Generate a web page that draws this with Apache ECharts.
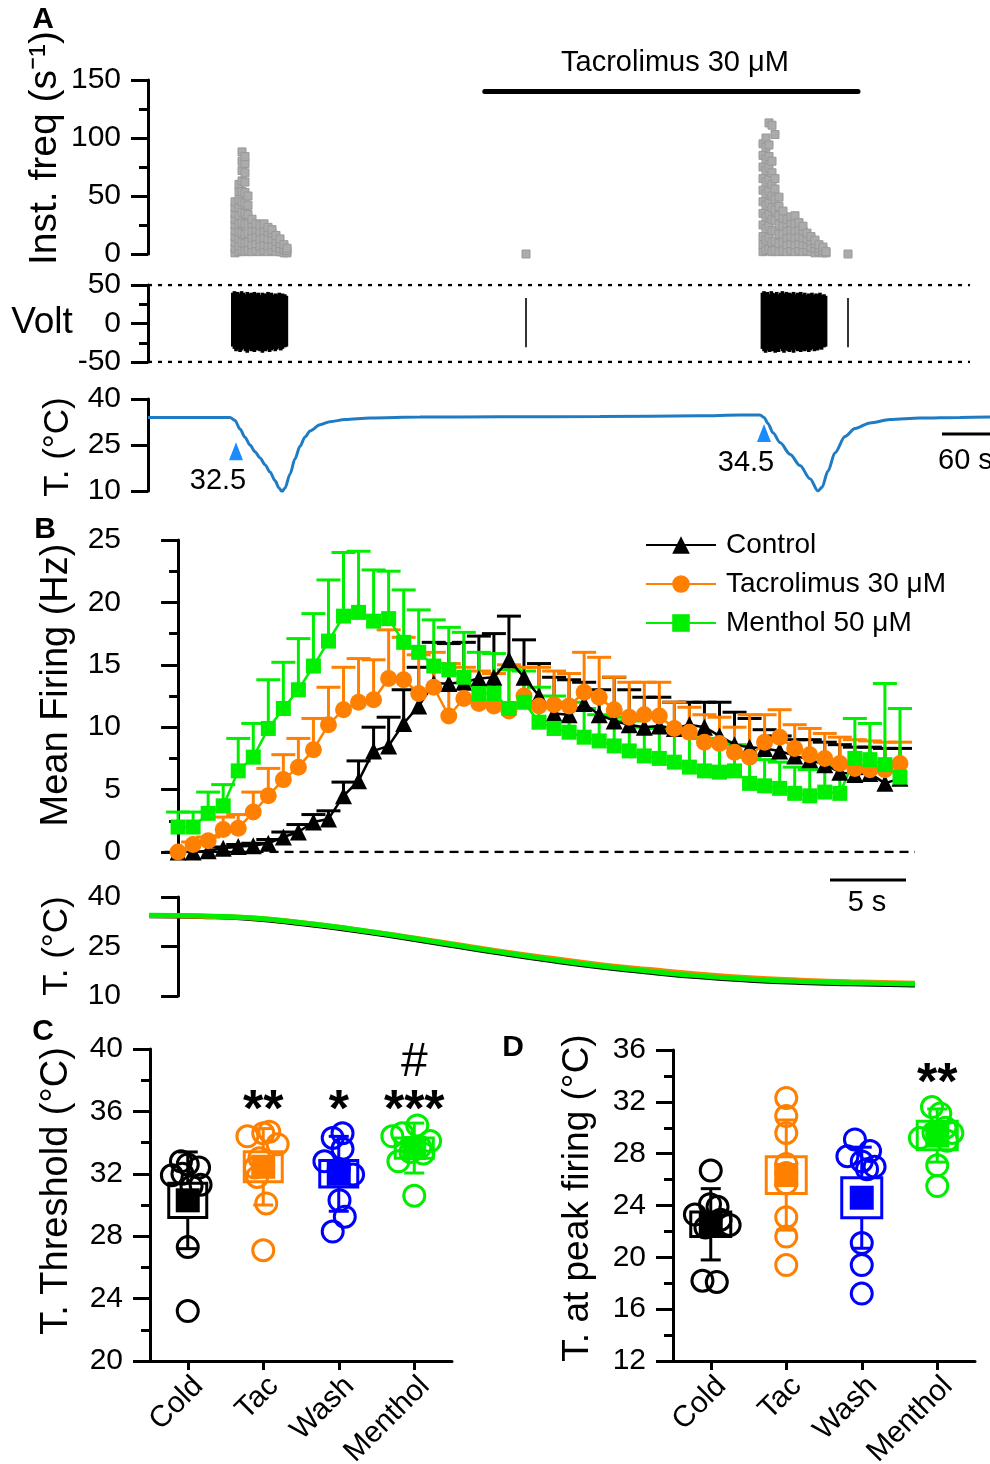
<!DOCTYPE html>
<html><head><meta charset="utf-8">
<script src="https://cdn.jsdelivr.net/npm/echarts@6/dist/echarts.min.js"></script>
<style>html,body{margin:0;padding:0;background:#fff}#c{width:990px;height:1464px}</style>
</head><body><div id="c"></div><script>
const FONT = "'Liberation Sans', Arial, Helvetica, sans-serif";

// ---------- Panel A: instantaneous frequency (time s, freq s-1) ----------
const instFreqCols1 = [
 [108.75,[1,5,10,15,20,25,30,35,40,45]],
 [113.75,[2,7,13,19,26,33,40,47,54,60]],
 [117.5,[3,10,18,27,36,45,54,63,72,80,88]],
 [121.25,[2,9,17,26,35,44,53,62,70,78,84]],
 [125,[3,10,18,26,34,42,50]],
 [130,[2,8,14,20,26,30]],
 [135,[3,9,15,21,26]],
 [140,[2,7,13,19,25]],
 [145,[3,8,14,20,26]],
 [150,[2,7,13,19,23]],
 [155,[3,8,13,18,21]],
 [160,[2,6,11,16]],
 [165,[2,5,9,13]],
 [170,[1,4,8]],
 [173.75,[1,3,5]]
];
const instFreqCols2 = [
 [768.75,[2,8,15,25,35,45,55,65,75,85,95]],
 [772.5,[3,12,22,32,42,52,62,72,82,92,100]],
 [776.25,[4,14,24,34,44,54,64,74,84,94,113]],
 [780,[2,10,20,30,40,50,60,70,80,111]],
 [783.75,[3,11,20,29,38,47,56,65,103]],
 [788.75,[2,9,17,25,33,41,49]],
 [793.75,[3,10,17,24,31,37]],
 [798.75,[2,8,14,20,26,30]],
 [803.75,[3,9,15,21,27,32]],
 [808.75,[2,8,14,20,26,33]],
 [813.75,[3,9,15,21,27]],
 [818.75,[2,8,14,20,24]],
 [823.75,[3,8,13,18]],
 [828.75,[2,6,11,15]],
 [833.75,[1,5,9,12]],
 [838.75,[2,5,8]],
 [843.75,[1,3,6]],
 [847.5,[1,2]]
];
const instFreqSingles = [[472.5,0],[875,0]];
const tacroPeriod = [421, 887.5];
const tacroBarLevel = 140;

// ---------- Panel A: voltage spikes [t, high, low] ----------
const voltSpikes1 = [[106,40,-30],[108,42,-33],[110,38,-36],[112,41,-34],[115,39,-37],[117,42,-35],[119,40,-33],[122,38,-36],[124,41,-38],[126,39,-34],[129,40,-36],[131,38,-33],[133,41,-37],[136,39,-35],[138,40,-34],[140,37,-36],[143,40,-38],[145,38,-33],[147,39,-36],[150,41,-34],[152,38,-37],[154,40,-35],[157,37,-33],[159,39,-36],[161,38,-34],[164,40,-32],[166,37,-35],[168,39,-33],[171,38,-31],[173,36,-30]];
const voltSpikes2 = [[768,40,-33],[770,42,-36],[772,39,-38],[774,41,-35],[777,38,-37],[779,42,-34],[781,40,-36],[784,39,-38],[786,41,-35],[788,38,-37],[791,40,-33],[793,42,-36],[795,39,-38],[798,41,-34],[800,38,-36],[802,40,-37],[805,39,-35],[807,41,-38],[809,38,-34],[812,40,-36],[814,39,-33],[816,41,-37],[819,38,-35],[821,40,-36],[823,37,-34],[826,39,-37],[828,38,-35],[830,40,-33],[833,37,-36],[835,39,-34],[837,38,-35],[840,40,-33],[842,37,-34],[845,38,-31],[847,36,-30]];
const voltSingles = [[472.5,33,-31],[875,33,-31]];
const voltRefLevels = [50, -50];
const voltRefSpan = [0, 1027.5];

// ---------- Panel A: bath temperature ----------
const tempA = [[0,34.0],[102.5,34.0],[108.75,33.0],[115,30.2],[121.25,27.5],[127.5,25.0],[133.75,22.8],[140,20.8],[146.25,18.6],[152.5,16.2],[158.75,13.4],[163.75,11.0],[167.5,9.8],[171.25,11.0],[177.5,15.5],[183.75,20.5],[190,24.6],[196.25,27.6],[202.5,29.6],[215,31.6],[227.5,32.6],[246.25,33.3],[277.5,33.8],[340,34.1],[440,34.2],[565,34.3],[690,34.5],[740,34.8],[765,34.8],[770,34.0],[775,32.0],[781.25,29.0],[790,25.8],[802.5,22.0],[815,18.3],[827.5,14.0],[837.5,10.0],[842.5,11.2],[850,16.5],[858.75,22.5],[871.25,27.8],[883.75,30.4],[902.5,32.2],[927.5,33.3],[965,33.8],[1015,34.0],[1052.5,34.1]];
const thresholdMarks = [[110,23.0,'32.5'],[770,28.9,'34.5']];

// ---------- Panel B: mean firing (Hz), mean and mean+SEM ----------
const bTime = [0,1,2,3,4,5,6,7,8,9,10,11,12,13,14,15,16,17,18,19,20,21,22,23,24,25,26,27,28,29,30,31,32,33,34,35,36,37,38,39,40,41,42,43,44,45,46,47,48];
const ctrlMean = [0.0,0.0,0.1,0.3,0.45,0.5,0.7,1.2,1.6,2.4,2.65,4.5,5.7,8.1,8.5,10.3,11.7,13.5,13.5,13.6,13.9,14.0,15.4,14.0,12.5,11.1,11.0,11.9,11.0,10.5,10.2,10.0,10.1,9.9,10.2,10.0,9.3,8.6,8.4,8.3,8.1,7.7,7.4,7.0,6.4,6.2,6.3,5.5,5.9];
const ctrlCap  = [0,0,0.1,0.4,0.6,0.7,1.0,1.6,2.2,3.0,3.3,5.6,7.3,10.0,10.8,13.0,14.8,16.8,16.7,16.8,17.3,17.5,18.9,17.0,15.1,14.0,13.8,13.6,13.0,14.0,13.0,12.4,12.4,12.0,12.0,12.0,12.0,11.2,10.7,9.8,9.3,9.0,9.0,8.8,8.6,8.4,8.4,8.3,8.3];
const tacMean  = [0.0,0.6,0.9,1.8,1.9,3.2,4.5,5.8,6.8,8.2,10.2,11.4,12.0,12.2,13.9,13.8,12.7,13.2,10.9,12.3,11.9,11.7,11.3,12.5,11.7,11.8,11.7,12.8,12.4,11.4,10.8,11.0,10.9,9.9,9.6,8.8,8.7,8.0,7.6,8.8,9.2,8.3,7.8,7.5,7.1,6.7,6.6,6.6,7.1];
const tacCap   = [0.0,0.8,1.2,2.8,3.0,4.8,6.7,7.8,9.1,10.7,13.2,14.8,15.5,15.4,17.8,17.2,15.8,16.0,15.1,14.8,14.5,14.3,15.0,14.8,14.8,14.5,14.3,16.0,15.6,14.0,13.6,13.6,13.6,12.0,11.6,11.0,10.8,10.0,11.0,11.0,11.4,10.2,9.9,9.5,9.2,9.0,8.9,8.8,8.8];
const menMean  = [2.0,2.0,3.1,3.7,6.5,7.6,9.9,11.5,13.0,14.9,16.9,18.9,19.2,18.5,18.7,16.8,16.0,14.9,14.6,14.0,12.7,12.7,11.5,12.0,10.4,9.9,9.6,9.2,8.9,8.5,8.1,7.7,7.5,7.2,6.8,6.5,6.4,6.5,5.5,5.3,5.1,4.7,4.5,4.8,4.7,7.5,7.4,7.0,6.0];
const menCap   = [3.2,3.2,4.8,5.4,9.1,10.3,13.8,15.2,17.1,19.1,21.8,24.0,24.1,22.6,22.5,21.0,19.4,18.6,18.0,17.6,16.0,15.9,14.6,14.5,13.2,12.5,12.0,11.5,11.0,10.8,10.5,10.0,9.9,9.8,9.4,9.1,8.8,8.6,7.6,7.4,7.2,6.8,6.6,7.2,7.0,10.7,10.3,13.5,11.5];
const zeroLineSpan = [-0.9, 49];

// ---------- Panel B: temperature ramps ----------
const bTempTime = [-1.9,1.5,4.8,8.1,11.4,14.8,18.1,21.4,24.7,28.1,31.4,34.7,38.0,41.4,44.7,49.0];
const ctrlTemp = [34.3,34.1,33.5,32.0,30.1,27.8,25.4,23.0,20.8,18.8,17.2,15.8,14.8,14.1,13.7,13.3];
const tacTemp  = [34.4,34.2,33.7,32.3,30.4,28.2,25.9,23.6,21.5,19.5,18.0,16.6,15.5,14.8,14.3,13.9];
const menTemp  = [34.5,34.3,33.7,32.3,30.4,28.1,25.7,23.3,21.1,19.1,17.5,16.1,15.1,14.4,14.0,13.6];

// ---------- Panels C & D ----------
const groups = ['Cold','Tac','Wash','Menthol'];
const threshCold = [23.2,27.3,31.3,31.9,32.0,32.4,32.6,32.8,31.2];
const threshTac = [34.4,34.6,34.7,33.9,33.0,32.4,31.8,30.1,27.1];
const threshWash = [34.6,34.3,33.6,32.8,32.3,31.95,30.3,29.25,28.3];
const threshMenthol = [35.1,34.6,34.4,34.1,33.7,33.4,33.3,32.8,30.6];
const threshJitter = [[0,0,0.17,-0.21,-0.07,0.15,0,-0.09,0.05],[-0.21,0,0.08,0.19,-0.05,-0.11,-0.08,0.04,0],[0.05,-0.08,0.05,-0.19,0,0.19,0.01,0.08,-0.08],[0.04,-0.16,-0.29,0.21,0.08,-0.05,0.12,-0.21,0]];
const threshMean = [30.3,32.45,32.0,33.65];
const threshSem = [1.1,0.96,0.85,0.65];
const threshSd = [3.1,2.45,2.4,1.6];
const threshSig = [[1,36.0,'**'],[2,36.0,'*'],[3,36.0,'***'],[3,39.1,'#']];

const peakCold = [26.7,24.1,23.9,23.3,22.9,22.5,22.3,18.2,18.1];
const peakTac = [32.3,30.9,29.6,27.2,26.5,25.7,23.1,21.6,19.4];
const peakWash = [29.1,28.2,27.8,27.4,27.0,26.8,21.1,19.4,17.2];
const peakMenthol = [31.6,31.1,30.0,29.6,29.6,29.2,29.0,27.1,25.5];
const peakJitter = [[0,-0.01,0.09,-0.21,0.13,0.25,-0.07,-0.11,0.08],[0,0,0,0,0,0,0,0,0],[-0.09,0.11,-0.19,0,0.17,0.07,0,0,0],[-0.07,0.04,0.11,0.2,-0.05,-0.23,0.13,0,0]];
const peakMean = [22.55,26.35,24.6,29.4];
const peakSem = [0.95,1.42,1.55,1.1];
const peakSd = [2.75,4.25,3.9,2.05];
const peakSig = [[3,33.3,'**']];

// ---------- styles ----------
const C_BLACK = '#000000', C_ORANGE = '#ff8000', C_GREEN = '#00ee00', C_BLUE = '#0000ff';
const groupColors = [C_BLACK, C_ORANGE, C_BLUE, C_GREEN];

// ---------- build data ----------
const instFreqData = [];
[instFreqCols1, instFreqCols2].forEach(cols => cols.forEach(([t, vals]) => vals.forEach(v => instFreqData.push([t, v]))));
instFreqSingles.forEach(p => instFreqData.push(p));
const voltBurstData = voltSpikes1.concat(voltSpikes2);

function yAx(grid, min, max, interval, minor) {
  return {type:'value', gridIndex:grid, min, max, interval,
    axisLine:{show:true, lineStyle:{color:'#000', width:3}},
    axisTick:{show:true, length:17, lineStyle:{color:'#000', width:3}},
    minorTick:{show:minor, splitNumber:2, length:9, lineStyle:{color:'#000', width:3}},
    splitLine:{show:false}, minorSplitLine:{show:false},
    axisLabel:{fontSize:30, color:'#000', fontFamily:FONT, margin:27}};
}
function xHidden(grid, min, max) {
  return {type:'value', gridIndex:grid, min, max, show:false, splitLine:{show:false}};
}
function xCat(grid) {
  return {type:'category', gridIndex:grid, data:groups,
    axisLine:{show:true, lineStyle:{color:'#000', width:3}},
    axisTick:{show:true, alignWithLabel:true, length:9, lineStyle:{color:'#000', width:3}},
    axisLabel:{fontSize:30, color:'#000', fontFamily:FONT, rotate:45, margin:10, interval:0, verticalAlign:'top'},
    splitLine:{show:false}};
}
function grid(left, top, width, height) {
  return {left, top, width, height, outerBoundsMode:'none', containLabel:false};
}
function spikeSeries(data, width) {
  return {type:'custom', xAxisIndex:1, yAxisIndex:1, data, silent:true,
    renderItem:(p, api)=>{
      const a = api.coord([api.value(0), api.value(1)]), b = api.coord([api.value(0), api.value(2)]);
      return {type:'line', shape:{x1:a[0],y1:a[1],x2:b[0],y2:b[1]}, style:{stroke:'#000', lineWidth:width}};
    }};
}

function errSeries(mean, cap, color) {
  return {type:'custom', xAxisIndex:3, yAxisIndex:3, silent:true,
    data: bTime.map((t,i)=>[t, mean[i], cap[i]]),
    renderItem:(p, api)=>{
      const m = api.value(1), c = api.value(2);
      if (c - m < 0.05) return null;
      const a = api.coord([api.value(0), m]), b = api.coord([api.value(0), c]);
      return {type:'group', children:[
        {type:'line', shape:{x1:a[0],y1:a[1],x2:b[0],y2:b[1]}, style:{stroke:color, lineWidth:3}},
        {type:'line', shape:{x1:b[0]-12,y1:b[1],x2:b[0]+12,y2:b[1]}, style:{stroke:color, lineWidth:3}}
      ]};
    }};
}
function meanSeries(name, mean, color, symbol, size) {
  return {type:'line', name, xAxisIndex:3, yAxisIndex:3, data: bTime.map((t,i)=>[t, mean[i]]),
    symbol, symbolSize:size, showAllSymbol:true, itemStyle:{color, opacity:1}, lineStyle:{color, width:2.5}, silent:true};
}
function tempBSeries(vals, color) {
  return {type:'line', xAxisIndex:4, yAxisIndex:4, data: bTempTime.map((t,i)=>[t, vals[i]]),
    symbol:'none', smooth:0.5, lineStyle:{color, width:5}, silent:true};
}
function summarySeries(ax, mean, sem, sd, boxHalf) {
  return {type:'custom', xAxisIndex:ax, yAxisIndex:ax, silent:true,
    data: mean.map((m,i)=>[i, m, sem[i], sd[i]]),
    renderItem:(p, api)=>{
      const i = api.value(0), m = api.value(1), se = api.value(2), s = api.value(3);
      const c = groupColors[p.dataIndex];
      const pm = api.coord([i, m]), pt = api.coord([i, m+s]), pb = api.coord([i, m-s]);
      const bt = api.coord([i, m+se]), bb = api.coord([i, m-se]);
      const x = pm[0], cw = 10, ms = 12;
      return {type:'group', children:[
        {type:'line', shape:{x1:x,y1:pt[1],x2:x,y2:pb[1]}, style:{stroke:c, lineWidth:3}},
        {type:'line', shape:{x1:x-cw,y1:pt[1],x2:x+cw,y2:pt[1]}, style:{stroke:c, lineWidth:3}},
        {type:'line', shape:{x1:x-cw,y1:pb[1],x2:x+cw,y2:pb[1]}, style:{stroke:c, lineWidth:3}},
        {type:'rect', shape:{x:x-boxHalf,y:bt[1],width:2*boxHalf,height:bb[1]-bt[1]}, style:{fill:'#fff', stroke:c, lineWidth:3}},
        {type:'rect', shape:{x:x-ms,y:pm[1]-ms,width:2*ms,height:2*ms}, style:{fill:c}}
      ]};
    }};
}
function dotsSeries(ax, lists, jitter) {
  const data = [];
  lists.forEach((vals, g) => vals.forEach((v, k) => data.push([g, v, jitter[g][k]])));
  return {type:'custom', xAxisIndex:ax, yAxisIndex:ax, silent:true, data,
    renderItem:(p, api)=>{
      const g = api.value(0);
      const pt = api.coord([g, api.value(1)]);
      const bw = api.size([1,0])[0];
      return {type:'circle', shape:{cx:pt[0]+api.value(2)*bw, cy:pt[1], r:10.5}, style:{fill:'none', stroke:groupColors[g], lineWidth:3}};
    }};
}
function sigSeries(ax, sig) {
  return {type:'scatter', xAxisIndex:ax, yAxisIndex:ax, silent:true, symbolSize:1, itemStyle:{color:'rgba(0,0,0,0)', opacity:1},
    data: sig.map(s => ({value:[s[0], s[1], s[2]], label:{fontWeight: s[2]==='#' ? 'normal' : 'bold', fontSize: s[2]==='#' ? 48 : 52}})),
    label:{show:true, position:'inside', formatter:p=>p.value[2], color:'#000', opacity:1, fontFamily:FONT}};
}

function txt(s, x, y, size, weight, align) {
  return {type:'text', x, y, z:100, silent:true, style:{text:s, fill:'#000', font:(weight||'normal')+' '+size+'px '+FONT, textAlign:align||'center', textVerticalAlign:'middle'}};
}
function rtxt(s, x, y, size) {
  const t = txt(s, x, y, size); t.rotation = Math.PI/2; return t;
}
function hline(x1, x2, y) {
  return {type:'line', z:100, silent:true, shape:{x1, y1:y, x2, y2:y}, style:{stroke:'#000', lineWidth:3}};
}

const option = {
  animation:false,
  backgroundColor:'#fff',
  textStyle:{fontFamily:FONT},
  grid:[
    grid(148, 80, 842, 174),
    grid(148, 285, 842, 77),
    grid(148, 399, 842, 92),
    grid(148, 540, 767, 312),
    grid(148, 897, 767, 99),
    grid(150, 1049, 302, 312),
    grid(673, 1050, 302, 311)
  ],
  xAxis:[xHidden(0,0,1052.5), xHidden(1,0,1052.5), xHidden(2,0,1052.5), xHidden(3,-2,49), xHidden(4,-2,49), xCat(5), xCat(6)],
  yAxis:[yAx(0,0,150,50,true), yAx(1,-50,50,50,true), yAx(2,10,40,15,false), yAx(3,0,25,5,true), yAx(4,10,40,15,false), yAx(5,20,40,4,true), yAx(6,12,36,4,true)],
  legend:{data:['Control','Tacrolimus 30 μM','Menthol 50 μM'], orient:'vertical', left:645, top:530, padding:0,
    itemWidth:70, itemHeight:22, itemGap:9, selectedMode:false,
    textStyle:{fontSize:28, color:'#000', fontFamily:FONT, lineHeight:30, padding:[0,0,0,5]}},
  graphic:[
    txt('A', 43, 20, 30, 'bold'), txt('B', 45, 530, 30, 'bold'), txt('C', 43, 1032, 30, 'bold'), txt('D', 513, 1048, 30, 'bold'),
    txt('Tacrolimus 30 μM', 675, 63, 29),
    rtxt('Inst. freq (s⁻¹)', 45, 148, 39),
    txt('Volt', 42, 323, 37),
    rtxt('T. (°C)', 58, 447, 35),
    rtxt('Mean Firing (Hz)', 57, 685, 38),
    rtxt('T. (°C)', 57, 946, 35),
    rtxt('T. Threshold (°C)', 57, 1191, 38),
    rtxt('T. at peak firing (°C)', 578, 1198, 37),
    hline(942, 992, 434), txt('60 s', 938, 461, 29, 'normal', 'left'),
    hline(830, 906, 880), txt('5 s', 867, 903, 29)
  ],
  series:[
    {type:'scatter', xAxisIndex:0, yAxisIndex:0, data:instFreqData, symbol:'rect', symbolSize:8, silent:true,
      itemStyle:{color:'#ababab', borderColor:'#999', borderWidth:1, opacity:1}},
    {type:'line', xAxisIndex:0, yAxisIndex:0, data:[[tacroPeriod[0], tacroBarLevel],[tacroPeriod[1], tacroBarLevel]], symbol:'none', silent:true,
      lineStyle:{color:'#000', width:5, cap:'round'}},
    spikeSeries(voltBurstData, 3.6),
    spikeSeries(voltSingles, 1.6),
    ...voltRefLevels.map(v => ({type:'line', xAxisIndex:1, yAxisIndex:1, data:[[voltRefSpan[0], v],[voltRefSpan[1], v]], symbol:'none', silent:true,
      lineStyle:{color:'#000', width:2.5, type:[4,6]}})),
    {type:'line', xAxisIndex:2, yAxisIndex:2, data:tempA, symbol:'none', smooth:0.3, smoothMonotone:'x', silent:true,
      lineStyle:{color:'#1f7bc2', width:3}},
    {type:'scatter', xAxisIndex:2, yAxisIndex:2, data:thresholdMarks, symbol:'triangle', symbolSize:[14,18], silent:true,
      itemStyle:{color:'#1a8cff', opacity:1},
      label:{show:true, position:'bottom', distance:6, offset:[-18,0], formatter:p=>p.value[2], fontSize:29, color:'#000', opacity:1, fontFamily:FONT}},

    {type:'line', xAxisIndex:3, yAxisIndex:3, data:[[zeroLineSpan[0],0],[zeroLineSpan[1],0]], symbol:'none', silent:true,
      lineStyle:{color:'#000', width:2.5, type:[9,6]}},
    errSeries(ctrlMean, ctrlCap, C_BLACK), meanSeries('Control', ctrlMean, C_BLACK, 'triangle', 17),
    errSeries(tacMean, tacCap, C_ORANGE), meanSeries('Tacrolimus 30 μM', tacMean, C_ORANGE, 'circle', 17),
    errSeries(menMean, menCap, C_GREEN), meanSeries('Menthol 50 μM', menMean, C_GREEN, 'rect', 15),
    tempBSeries(ctrlTemp, C_BLACK), tempBSeries(tacTemp, C_ORANGE), tempBSeries(menTemp, C_GREEN),

    summarySeries(5, threshMean, threshSem, threshSd, 19),
    dotsSeries(5, [threshCold, threshTac, threshWash, threshMenthol], threshJitter),
    sigSeries(5, threshSig),
    summarySeries(6, peakMean, peakSem, peakSd, 20),
    dotsSeries(6, [peakCold, peakTac, peakWash, peakMenthol], peakJitter),
    sigSeries(6, peakSig)
  ]
};
const chart = echarts.init(document.getElementById('c'), null, {renderer:'canvas', width:990, height:1464});
chart.setOption(option);
</script></body></html>
